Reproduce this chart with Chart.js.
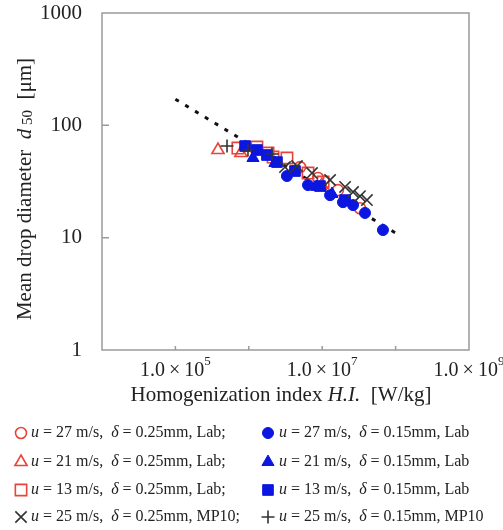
<!DOCTYPE html>
<html>
<head>
<meta charset="utf-8">
<script src="https://cdn.jsdelivr.net/npm/chart.js@4.4.0/dist/chart.umd.min.js"></script>
<style>
  html, body { margin: 0; padding: 0; background: #fff; }
</style>
</head>
<body>
<canvas id="dropChart" width="503" height="530"></canvas>
<script>
// values: H.I. [W/kg] and d50 [um]
const redCircleHI = [5.0e6, 8.8e6, 1.64e7, 3.27e7];
const redCircleD  = [42.5, 34.0, 26.5, 18.3];
const redTriHI    = [3.8e5, 7.8e5, 9.9e6];
const redTriD     = [60.3, 56.7, 29.4];
const redSqHI     = [7.1e5, 1.29e6, 1.83e6, 2.14e6, 3.31e6, 6.41e6, 1.03e7];
const redSqD      = [62.8, 64.1, 56.7, 52.2, 51.2, 37.6, 31.3];
const crossHI     = [3.11e6, 4.54e6, 7.26e6, 1.28e7, 2.05e7, 2.63e7, 3.27e7, 4.07e7];
const crossD      = [42.5, 43.4, 37.6, 32.6, 28.3, 25.5, 23.4, 21.6];
const blueCircleHI = [3.31e6, 6.41e6, 1.28e7, 1.92e7, 2.63e7, 3.83e7, 6.73e7];
const blueCircleD  = [35.4, 29.4, 23.9, 20.7, 19.5, 16.6, 11.7];
const blueTriHI   = [1.14e6, 2.27e6, 4.0e6, 8.49e6, 1.36e7];
const blueTriD    = [51.2, 46.2, 38.4, 28.3, 24.5];
const blueSqHI    = [8.9e5, 1.29e6, 1.77e6, 2.42e6, 4.26e6, 9.33e6, 2.05e7];
const blueSqD     = [65.4, 60.3, 54.4, 47.1, 39.2, 28.8, 21.6];
const plusHI      = [5.05e5, 9.75e5, 2.07e6];
const plusD       = [65.4, 60.3, 55.5];
const fitHI       = [1e5, 1e8];
const fitD        = [171, 11];

// axes
const yTicks = [1, 10, 100, 1000];
const xLabelTicks = [1e5, 1e7, 1e9];
const xMarkTicks = [1e5, 1e6, 1e7, 1e8];
const yMarkTicks = [10, 100];

// legend text
const legendSpeedL = ['27', '21', '13', '25'];
const legendSpeedR = ['27', '21', '13', '25'];
const legendSiteL = ['Lab;', 'Lab;', 'Lab;', 'MP10;'];
const legendSiteR = ['Lab', 'Lab', 'Lab', 'MP10'];

const RED = '#e8443a';
const BLUE = '#0b16e0';
const DARK = '#333333';
const SERIF = '"Liberation Serif", "DejaVu Serif", serif';

function pts(xs, ys) {
    return xs.map((x, i) => ({x: x, y: ys[i]}));
}

let marker = (style, r, color, filled, bw) => ({
    pointStyle: style,
    pointRadius: r,
    pointHoverRadius: r,
    pointBorderColor: color,
    pointBackgroundColor: filled ? color : 'rgba(0,0,0,0)',
    pointBorderWidth: bw,
    borderColor: color,
    showLine: false
});

const legendLeft = [
    marker('circle', 5.5, RED, false, 1.6),
    marker('triangle', 7, RED, false, 1.6),
    marker('rect', 8, RED, false, 1.6),
    marker('crossRot', 8, DARK, false, 1.6)
];
const legendRight = [
    marker('circle', 5.5, BLUE, true, 1),
    marker('triangle', 7, BLUE, true, 1),
    marker('rect', 7.5, BLUE, true, 1),
    marker('cross', 6.5, DARK, false, 1.6)
];

// first dataset is drawn on top
const datasets = [
    Object.assign({data: pts(crossHI, crossD)}, legendLeft[3]),
    Object.assign({data: pts(plusHI, plusD)}, legendRight[3]),
    Object.assign({data: pts(blueCircleHI, blueCircleD)}, legendRight[0]),
    Object.assign({data: pts(blueTriHI, blueTriD)}, legendRight[1]),
    Object.assign({data: pts(blueSqHI, blueSqD)}, legendRight[2]),
    Object.assign({data: pts(redCircleHI, redCircleD)}, legendLeft[0]),
    Object.assign({data: pts(redTriHI, redTriD)}, legendLeft[1]),
    Object.assign({data: pts(redSqHI, redSqD)}, legendLeft[2]),
    {
        data: pts(fitHI, fitD),
        showLine: true,
        borderColor: '#111',
        borderWidth: 3,
        borderDash: [4, 7.5],
        pointRadius: 0,
        pointHoverRadius: 0
    }
];

// draw a run of [text, font, dy] pieces starting at x
function drawPieces(ctx, pieces, x, y) {
    for (let p of pieces) {
        ctx.font = p[1];
        ctx.fillText(p[0], x, y + (p[2] || 0));
        x += ctx.measureText(p[0]).width;
    }
    return x;
}
function piecesWidth(ctx, pieces) {
    let w = 0;
    for (let p of pieces) {
        ctx.font = p[1];
        w += ctx.measureText(p[0]).width;
    }
    return w;
}

function drawMarker(ctx, m, x, y) {
    ctx.save();
    ctx.strokeStyle = m.pointBorderColor;
    ctx.fillStyle = m.pointBackgroundColor;
    ctx.lineWidth = m.pointBorderWidth;
    Chart.helpers.drawPoint(ctx, {
        pointStyle: m.pointStyle,
        radius: m.pointRadius,
        rotation: 0,
        borderWidth: m.pointBorderWidth
    }, x, y);
    ctx.restore();
}

const decorPlugin = {
    id: 'decor',
    afterDraw(chart) {
        const ctx = chart.ctx;
        const a = chart.chartArea;
        const xs = chart.scales.x, ys = chart.scales.y;
        ctx.save();

        // frame and inward ticks
        ctx.strokeStyle = '#9a9a9a';
        ctx.lineWidth = 1.5;
        ctx.strokeRect(a.left, a.top, a.right - a.left, a.bottom - a.top);
        ctx.beginPath();
        for (let v of yMarkTicks) {
            let py = ys.getPixelForValue(v);
            ctx.moveTo(a.left, py);
            ctx.lineTo(a.left + 7, py);
        }
        for (let v of xMarkTicks) {
            let px = xs.getPixelForValue(v);
            ctx.moveTo(px, a.bottom);
            ctx.lineTo(px, a.bottom - 4);
        }
        ctx.stroke();

        ctx.fillStyle = '#222';
        ctx.textBaseline = 'middle';
        ctx.textAlign = 'left';

        // x tick labels 1.0x10^n
        for (let v of xLabelTicks) {
            let exp = String(Math.round(Math.log10(v)));
            let pieces = [['1.0\u2009\u00d7\u200910', '20px ' + SERIF, 0], [exp, '13px ' + SERIF, -9]];
            let w = piecesWidth(ctx, pieces);
            drawPieces(ctx, pieces, xs.getPixelForValue(v) - w / 2, a.bottom + 21);
        }

        // x title
        let xt = [
            ['Homogenization index ', '21px ' + SERIF],
            ['H.I.', 'italic 21px ' + SERIF],
            ['  [W/kg]', '21px ' + SERIF]
        ];
        drawPieces(ctx, xt, 281 - piecesWidth(ctx, xt) / 2, a.bottom + 45);

        // y title, rotated
        let yt = [
            ['Mean drop diameter  ', '21px ' + SERIF],
            ['d', 'italic 21px ' + SERIF],
            [' 50', '15px ' + SERIF, 3],
            ['  [\u03bcm]', '21px ' + SERIF]
        ];
        ctx.save();
        ctx.translate(25, 189);
        ctx.rotate(-Math.PI / 2);
        drawPieces(ctx, yt, -piecesWidth(ctx, yt) / 2, 0);
        ctx.restore();

        // legend
        const rows = [433, 462, 490, 517];
        const body = '16px ' + SERIF, ital = 'italic 16px ' + SERIF;
        rows.forEach((ry, i) => {
            drawMarker(ctx, legendLeft[i], 21, ry);
            drawPieces(ctx, [
                ['u', ital], [' = ' + legendSpeedL[i] + ' m/s,  ', body],
                ['\u03b4', ital], [' = 0.25mm, ' + legendSiteL[i], body]
            ], 31, ry);
            drawMarker(ctx, legendRight[i], 268, ry);
            drawPieces(ctx, [
                ['u', ital], [' = ' + legendSpeedR[i] + ' m/s,  ', body],
                ['\u03b4', ital], [' = 0.15mm, ' + legendSiteR[i], body]
            ], 279, ry);
        });
        ctx.restore();
    }
};

const ctx = document.getElementById('dropChart').getContext('2d');
const dropChart = new Chart(ctx, {
    type: 'scatter',
    data: {datasets: datasets},
    options: {
        responsive: false,
        animation: false,
        layout: {padding: {left: 30, top: 13, right: 34, bottom: 0}},
        scales: {
            x: {
                type: 'logarithmic',
                min: 1e4,
                max: 1e9,
                ticks: {display: false},
                grid: {display: false, drawTicks: false},
                border: {display: false},
                afterFit: (s) => {
                    s.height = 180;
                    s.paddingLeft = 0;
                    s.paddingRight = 0;
                }
            },
            y: {
                type: 'logarithmic',
                min: 1,
                max: 1000,
                afterBuildTicks: (s) => { s.ticks = yTicks.map(v => ({value: v})); },
                ticks: {
                    font: {family: SERIF, size: 21},
                    color: '#222',
                    padding: 20,
                    callback: (v) => String(v)
                },
                grid: {display: false, drawTicks: false},
                border: {display: false},
                afterFit: (s) => {
                    s.width = 72;
                    s.paddingTop = 0;
                    s.paddingBottom = 0;
                }
            }
        },
        plugins: {
            legend: {display: false},
            tooltip: {enabled: false}
        }
    },
    plugins: [decorPlugin]
});
</script>
</body>
</html>
